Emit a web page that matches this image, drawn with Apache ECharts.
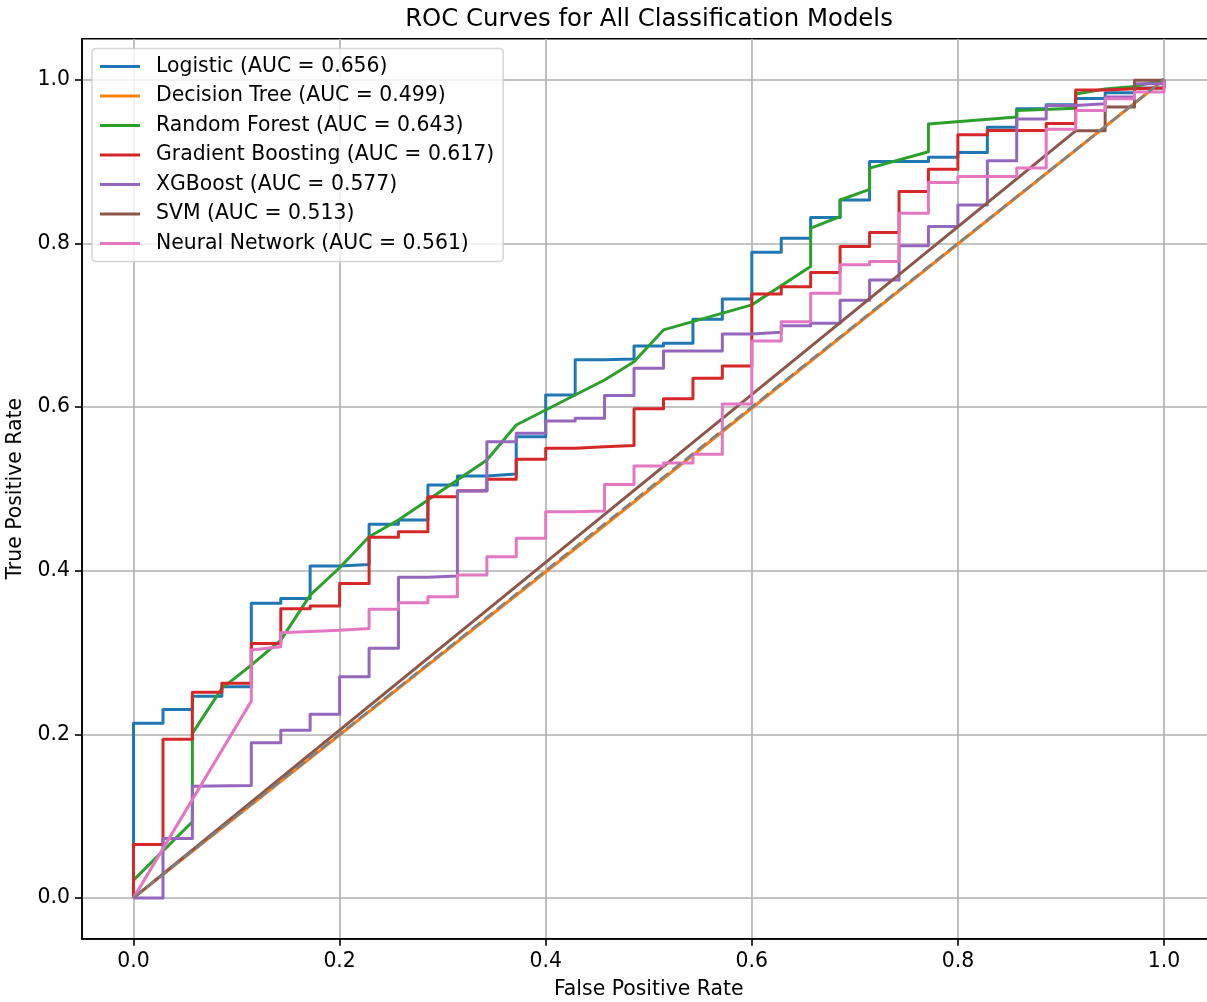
<!DOCTYPE html>
<html>
<head>
<meta charset="utf-8">
<script src="https://cdn.jsdelivr.net/npm/echarts@6/dist/echarts.min.js"></script>
<style>
  html, body { margin: 0; padding: 0; background: #ffffff; }
  #chart { width: 1207px; height: 1002px; }
</style>
</head>
<body>
<div id="chart"></div>
<script>
// ROC points [false positive rate, true positive rate] per model
const logisticRoc = [[0,0],[0,0.2133],[0.0286,0.2133],[0.0286,0.2304],[0.0571,0.2304],[0.0571,0.2465],[0.0857,0.2465],[0.0857,0.258],[0.1143,0.258],[0.1143,0.36],[0.1429,0.36],[0.1429,0.366],[0.1714,0.366],[0.1714,0.4055],[0.2,0.4055],[0.2,0.4075],[0.2286,0.4075],[0.2286,0.4566],[0.2571,0.4566],[0.2571,0.4619],[0.2857,0.4619],[0.2857,0.5047],[0.3143,0.5047],[0.3143,0.5157],[0.3429,0.5157],[0.3429,0.518],[0.3714,0.518],[0.3714,0.5637],[0.4,0.5637],[0.4,0.6147],[0.4286,0.6147],[0.4286,0.6577],[0.4571,0.6577],[0.4571,0.6587],[0.4857,0.6587],[0.4857,0.6746],[0.5143,0.6746],[0.5143,0.678],[0.5429,0.678],[0.5429,0.7073],[0.5714,0.7073],[0.5714,0.7321],[0.6,0.7321],[0.6,0.789],[0.6286,0.789],[0.6286,0.8063],[0.6571,0.8063],[0.6571,0.8315],[0.6857,0.8315],[0.6857,0.853],[0.7143,0.853],[0.7143,0.9],[0.7714,0.9],[0.7714,0.9053],[0.8,0.9053],[0.8,0.911],[0.8286,0.911],[0.8286,0.942],[0.8571,0.942],[0.8571,0.9645],[0.8857,0.9645],[0.8857,0.9695],[0.9143,0.9695],[0.9143,0.977],[0.9429,0.977],[0.9429,0.984],[0.9714,0.984],[0.9714,0.99],[1,0.99],[1,1]];

const decisionTreeRoc = [[0,0],[0.4571,0.4552],[1,1]];

const randomForestRoc = [[0,0],[0,0.0217],[0.0571,0.093],[0.0571,0.201],[0.0857,0.256],[0.1143,0.2845],[0.1429,0.315],[0.1714,0.37],[0.2,0.4035],[0.2286,0.4414],[0.2571,0.4619],[0.2857,0.4864],[0.3143,0.5108],[0.3429,0.5352],[0.3714,0.578],[0.4571,0.633],[0.4857,0.6554],[0.5143,0.6942],[0.6,0.7248],[0.6571,0.7716],[0.6571,0.8185],[0.6857,0.8327],[0.6857,0.853],[0.7143,0.866],[0.7143,0.892],[0.7714,0.912],[0.7714,0.946],[0.8571,0.9545],[0.8571,0.9625],[0.9143,0.965],[0.9143,0.9825],[0.9429,0.9886],[0.9714,0.9917],[1,1]];

const gradientBoostingRoc = [[0,0],[0,0.0653],[0.0286,0.0653],[0.0286,0.194],[0.0571,0.194],[0.0571,0.2512],[0.0857,0.2512],[0.0857,0.2622],[0.1143,0.2622],[0.1143,0.311],[0.1429,0.311],[0.1429,0.3535],[0.1714,0.3535],[0.1714,0.3567],[0.2,0.3567],[0.2,0.3844],[0.2286,0.3844],[0.2286,0.4407],[0.2571,0.4407],[0.2571,0.4476],[0.2857,0.4476],[0.2857,0.4904],[0.3143,0.4904],[0.3143,0.4975],[0.3429,0.4975],[0.3429,0.5116],[0.3714,0.5116],[0.3714,0.536],[0.4,0.536],[0.4,0.5495],[0.4286,0.5495],[0.4286,0.5515],[0.4571,0.5515],[0.4571,0.553],[0.4857,0.553],[0.4857,0.5978],[0.5143,0.5978],[0.5143,0.6102],[0.5429,0.6102],[0.5429,0.635],[0.5714,0.635],[0.5714,0.6502],[0.6,0.6502],[0.6,0.7382],[0.6286,0.7382],[0.6286,0.7471],[0.6571,0.7471],[0.6571,0.7643],[0.6857,0.7643],[0.6857,0.796],[0.7143,0.796],[0.7143,0.8132],[0.7429,0.8132],[0.7429,0.8633],[0.7714,0.8633],[0.7714,0.8907],[0.8,0.8907],[0.8,0.9326],[0.8286,0.9326],[0.8286,0.938],[0.8857,0.938],[0.8857,0.9465],[0.9143,0.9465],[0.9143,0.9875],[0.9429,0.9875],[0.9429,0.989],[0.9714,0.989],[0.9714,0.99],[1,0.99],[1,1]];

const xgboostRoc = [[0,0],[0.0286,0],[0.0286,0.0726],[0.0571,0.0726],[0.0571,0.1366],[0.1143,0.1375],[0.1143,0.1896],[0.1429,0.1896],[0.1429,0.205],[0.1714,0.205],[0.1714,0.2246],[0.2,0.2246],[0.2,0.2703],[0.2286,0.2703],[0.2286,0.305],[0.2571,0.305],[0.2571,0.3918],[0.2857,0.3918],[0.2857,0.3934],[0.3143,0.3934],[0.3143,0.4973],[0.3429,0.4973],[0.3429,0.5576],[0.3714,0.5576],[0.3714,0.5679],[0.4,0.5679],[0.4,0.5829],[0.4286,0.5829],[0.4286,0.5862],[0.4571,0.5862],[0.4571,0.6141],[0.4857,0.6141],[0.4857,0.6473],[0.5143,0.6473],[0.5143,0.6685],[0.5714,0.6685],[0.5714,0.6893],[0.6,0.6893],[0.6,0.6914],[0.6286,0.6914],[0.6286,0.6994],[0.6571,0.6994],[0.6571,0.7024],[0.6857,0.7024],[0.6857,0.7305],[0.7143,0.7305],[0.7143,0.7553],[0.7429,0.7553],[0.7429,0.797],[0.7714,0.797],[0.7714,0.8205],[0.8,0.8205],[0.8,0.847],[0.8286,0.847],[0.8286,0.9008],[0.8571,0.9008],[0.8571,0.952],[0.8857,0.952],[0.8857,0.9686],[0.9143,0.9686],[0.9143,0.9707],[0.9429,0.9707],[0.9429,0.9788],[0.9714,0.9788],[0.9714,0.995],[1,0.995],[1,1]];

const svmRoc = [[0,0],[0.9143,0.9375],[0.9429,0.9375],[0.9429,0.9665],[0.9714,0.9665],[0.9714,0.9992],[1,0.9992],[1,1]];

const neuralNetworkRoc = [[0,0],[0.1143,0.2405],[0.1143,0.303],[0.1429,0.307],[0.1429,0.324],[0.2,0.327],[0.2286,0.3294],[0.2286,0.3527],[0.2571,0.3527],[0.2571,0.3607],[0.2857,0.3607],[0.2857,0.368],[0.3143,0.368],[0.3143,0.3946],[0.3429,0.3946],[0.3429,0.417],[0.3714,0.417],[0.3714,0.4395],[0.4,0.4395],[0.4,0.472],[0.4286,0.472],[0.4286,0.4729],[0.4571,0.4729],[0.4571,0.5052],[0.4857,0.5052],[0.4857,0.528],[0.5143,0.528],[0.5143,0.5316],[0.5429,0.5316],[0.5429,0.5422],[0.5714,0.5422],[0.5714,0.6037],[0.6,0.6037],[0.6,0.6807],[0.6286,0.6807],[0.6286,0.7043],[0.6571,0.7043],[0.6571,0.739],[0.6857,0.739],[0.6857,0.7737],[0.7143,0.7737],[0.7143,0.7777],[0.7429,0.7777],[0.7429,0.8369],[0.7714,0.8369],[0.7714,0.8743],[0.8,0.8743],[0.8,0.8817],[0.8571,0.8817],[0.8571,0.892],[0.8857,0.892],[0.8857,0.9396],[0.9143,0.9396],[0.9143,0.9625],[0.9429,0.9625],[0.9429,0.9768],[0.9714,0.9768],[0.9714,0.985],[1,0.985],[1,1]];

// Random-guess reference diagonal
const chanceLine = [[0,0],[1,1]];

const modelNames = ['Logistic', 'Decision Tree', 'Random Forest', 'Gradient Boosting', 'XGBoost', 'SVM', 'Neural Network'];
const aucValues = ['0.656', '0.499', '0.643', '0.617', '0.577', '0.513', '0.561'];
const rocCurves = [logisticRoc, decisionTreeRoc, randomForestRoc, gradientBoostingRoc, xgboostRoc, svmRoc, neuralNetworkRoc];
const tickValues = [0, 0.2, 0.4, 0.6, 0.8, 1.0];

const palette = ['#1f77b4', '#ff7f0e', '#2ca02c', '#d62728', '#9467bd', '#8c564b', '#e377c2'];
const FONT = 'DejaVu Sans';
const TEXT_SIZE = 20.4;

const legendLabels = modelNames.map((n, i) => `${n} (AUC = ${aucValues[i]})`);

const series = rocCurves.map((pts, i) => ({
  name: legendLabels[i],
  type: 'line',
  data: pts,
  symbol: 'none',
  showSymbol: false,
  color: palette[i],
  lineStyle: { color: palette[i], width: 3, join: 'round', cap: 'butt' },
  emphasis: { disabled: true },
  z: 3
}));

series.push({
  name: 'chance',
  type: 'line',
  data: chanceLine,
  symbol: 'none',
  showSymbol: false,
  lineStyle: { color: '#808080', width: 2.6, type: [11, 5] },
  emphasis: { disabled: true },
  z: 3
});

const axisCommon = {
  type: 'value',
  min: -0.05,
  max: 1.05,
  axisLine: { show: true, onZero: false, lineStyle: { color: '#000', width: 1.6 } },
  axisTick: { show: true, customValues: tickValues, length: 7, lineStyle: { color: '#000', width: 1.6 } },
  axisLabel: {
    customValues: tickValues,
    formatter: v => v.toFixed(1),
    color: '#000',
    fontFamily: FONT,
    fontSize: TEXT_SIZE
  },
  splitLine: { show: true, lineStyle: { color: '#b0b0b0', width: 1.6 } },
  nameLocation: 'middle',
  nameTextStyle: { fontFamily: FONT, fontSize: TEXT_SIZE, color: '#000' }
};

const chart = echarts.init(document.getElementById('chart'), null, { renderer: 'canvas' });
chart.setOption({
  animation: false,
  backgroundColor: '#ffffff',
  title: {
    text: 'ROC Curves for All Classification Models',
    left: 644,
    textAlign: 'center',
    top: 3,
    textStyle: { fontFamily: FONT, fontSize: 24.4, fontWeight: 'normal', color: '#000' }
  },
  legend: {
    data: legendLabels,
    orient: 'vertical',
    left: 92,
    top: 48.5,
    icon: 'rect',
    itemWidth: 40,
    itemHeight: 3,
    itemGap: 9.5,
    padding: [8, 9, 8, 8],
    backgroundColor: 'rgba(255,255,255,0.8)',
    borderColor: 'rgba(204,204,204,0.8)',
    borderWidth: 1.6,
    borderRadius: 4,
    selectedMode: false,
    textStyle: { fontFamily: FONT, fontSize: TEXT_SIZE, color: '#000', lineHeight: 20, padding: [0, 0, 0, 11] }
  },
  grid: {
    left: 82,
    top: 38.8,
    width: 1133.5,
    height: 900,
    show: true,
    borderColor: '#000',
    borderWidth: 1.6,
    backgroundColor: 'transparent',
    containLabel: false,
    outerBoundsMode: 'none'
  },
  xAxis: Object.assign({}, axisCommon, {
    name: 'False Positive Rate',
    nameGap: 41,
    axisLabel: Object.assign({}, axisCommon.axisLabel, { margin: 13 })
  }),
  yAxis: Object.assign({}, axisCommon, {
    name: 'True Positive Rate',
    nameGap: 56,
    axisLabel: Object.assign({}, axisCommon.axisLabel, { margin: 12 })
  }),
  series: series
});
</script>
</body>
</html>
